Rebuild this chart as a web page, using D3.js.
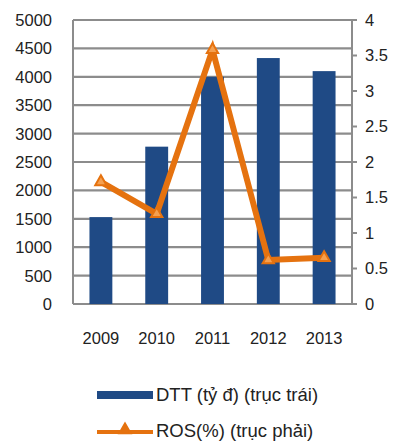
<!DOCTYPE html>
<html>
<head>
<meta charset="utf-8">
<script src="https://cdn.jsdelivr.net/npm/d3@7"></script>
<style>
  body { margin: 0; background: #fff; }
  text { font-family: "Liberation Sans", Arial, sans-serif; fill: #222; }
</style>
</head>
<body>
<div id="chart"></div>
<script>
var years = ['2009', '2010', '2011', '2012', '2013'];
var dtt = [1530, 2770, 4000, 4330, 4100];
var ros = [1.72, 1.27, 3.58, 0.62, 0.65];
var leftTicks = [0, 500, 1000, 1500, 2000, 2500, 3000, 3500, 4000, 4500, 5000];
var rightTicks = [0, 0.5, 1, 1.5, 2, 2.5, 3, 3.5, 4];
var legendLabels = ['DTT (tỷ đ) (trục trái)', 'ROS(%) (trục phải)'];

var width = 398, height = 441;
var pad = {t: 20, r: 46, b: 137, l: 73};
var chartW = width - pad.l - pad.r;
var chartH = height - pad.t - pad.b;

var blue = '#1f4a85', orange = '#e5720f', grid = '#8c8c8c';

var svg = d3.select('#chart').append('svg')
	.attr('width', width)
	.attr('height', height);

var x = d3.scaleBand().domain(years).range([0, chartW]).paddingInner(0.59).paddingOuter(0.295);
var yL = d3.scaleLinear().domain([0, 5000]).range([chartH, 0]);
var yR = d3.scaleLinear().domain([0, 4]).range([chartH, 0]);

var g = svg.append('g').attr('transform', 'translate(' + [pad.l, pad.t] + ')');

// gridlines
g.selectAll('line.grid')
	.data(leftTicks)
	.enter().append('line')
	.attr('class', 'grid')
	.attr('x1', 0).attr('x2', chartW)
	.attr('y1', function(d) { return yL(d); })
	.attr('y2', function(d) { return yL(d); })
	.attr('stroke', grid)
	.attr('stroke-width', 2.2);

// left border
g.append('line').attr('x1', 0).attr('x2', 0).attr('y1', 0).attr('y2', chartH)
	.attr('stroke', grid).attr('stroke-width', 2);

// left axis labels
g.selectAll('text.yl')
	.data(leftTicks)
	.enter().append('text')
	.attr('class', 'yl')
	.attr('x', -21)
	.attr('y', function(d) { return yL(d); })
	.attr('dy', '0.36em')
	.attr('text-anchor', 'end')
	.style('font-size', '16.5px')
	.text(function(d) { return d; });

// bars
g.selectAll('rect.bar')
	.data(dtt)
	.enter().append('rect')
	.attr('class', 'bar')
	.attr('x', function(d, i) { return x(years[i]); })
	.attr('width', x.bandwidth())
	.attr('y', function(d) { return yL(d); })
	.attr('height', function(d) { return chartH - yL(d); })
	.attr('fill', blue);

// right axis
var rAxis = g.append('g').attr('transform', 'translate(' + chartW + ',0)');
rAxis.append('line').attr('x1', 0).attr('x2', 0).attr('y1', 0).attr('y2', chartH)
	.attr('stroke', grid).attr('stroke-width', 2);
rAxis.selectAll('line.tk')
	.data(rightTicks)
	.enter().append('line')
	.attr('class', 'tk')
	.attr('x1', 0).attr('x2', 5)
	.attr('y1', function(d) { return yR(d); })
	.attr('y2', function(d) { return yR(d); })
	.attr('stroke', grid).attr('stroke-width', 2);
rAxis.selectAll('text')
	.data(rightTicks)
	.enter().append('text')
	.attr('x', 13)
	.attr('y', function(d) { return yR(d); })
	.attr('dy', '0.36em')
	.style('font-size', '16.5px')
	.text(function(d) { return d; });

// x labels
g.selectAll('text.xl')
	.data(years)
	.enter().append('text')
	.attr('class', 'xl')
	.attr('x', function(d) { return x(d) + x.bandwidth() / 2; })
	.attr('y', chartH + 40)
	.attr('text-anchor', 'middle')
	.style('font-size', '16.5px')
	.text(function(d) { return d; });

// ROS line
var line = d3.line()
	.x(function(d, i) { return x(years[i]) + x.bandwidth() / 2; })
	.y(function(d) { return yR(d); });
g.append('path')
	.datum(ros)
	.attr('d', line)
	.attr('fill', 'none')
	.attr('stroke', orange)
	.attr('stroke-width', 6)
	.attr('stroke-linejoin', 'miter');

var tri = d3.symbol().type(d3.symbolTriangle).size(55);
g.selectAll('path.mk')
	.data(ros)
	.enter().append('path')
	.attr('class', 'mk')
	.attr('d', tri)
	.attr('transform', function(d, i) {
		return 'translate(' + [x(years[i]) + x.bandwidth() / 2, yR(d)] + ')';
	})
	.attr('fill', '#f5a050')
	.attr('stroke', orange)
	.attr('stroke-width', 2);

// legend
var lg = svg.append('g');
lg.append('rect').attr('x', 97).attr('y', 391).attr('width', 56).attr('height', 8).attr('fill', blue);
lg.append('text').attr('x', 156).attr('y', 394).attr('dy', '0.36em')
	.style('font-size', '18.5px').text(legendLabels[0]);
lg.append('line').attr('x1', 97).attr('x2', 153).attr('y1', 432).attr('y2', 432)
	.attr('stroke', orange).attr('stroke-width', 4);
lg.append('path').attr('d', tri).attr('transform', 'translate(125,430)')
	.attr('fill', orange).attr('stroke', orange).attr('stroke-width', 2);
lg.append('text').attr('x', 156).attr('y', 430).attr('dy', '0.36em')
	.style('font-size', '18.5px').text(legendLabels[1]);
</script>
</body>
</html>
